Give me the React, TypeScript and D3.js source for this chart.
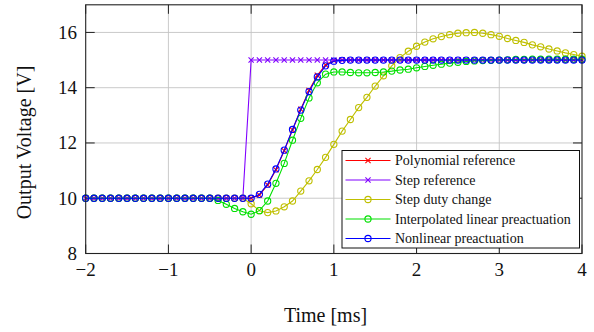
import { scaleLinear, line, range } from 'd3';

// sample times, 0.1 ms apart
const time = range(61).map((i) => Math.round((-2 + i * 0.1) * 10) / 10);

const polyRef = [
  10, 10, 10, 10, 10, 10, 10, 10, 10, 10, 10, 10, 10, 10, 10, 10, 10, 10, 10, 10,
  10, 10.12, 10.48, 11.03, 11.72, 12.47, 13.22, 13.9, 14.45, 14.82, 14.98, 15,
  15, 15, 15, 15, 15, 15, 15, 15, 15, 15, 15, 15, 15, 15, 15, 15, 15, 15, 15, 15, 15, 15, 15, 15, 15, 15, 15, 15, 15,
];

const stepRef = [
  10, 10, 10, 10, 10, 10, 10, 10, 10, 10, 10, 10, 10, 10, 10, 10, 10, 10, 10, 10,
  15, 15, 15, 15, 15, 15, 15, 15, 15, 15, 15, 15, 15, 15, 15, 15, 15, 15, 15, 15,
  15, 15, 15, 15, 15, 15, 15, 15, 15, 15, 15, 15, 15, 15, 15, 15, 15, 15, 15, 15, 15,
];

const stepDuty = [
  10, 10, 10, 10, 10, 10, 10, 10, 10, 10, 10, 10, 10, 10, 10, 10, 10, 10, 10, 10,
  9.8, 9.55, 9.48, 9.54, 9.69, 9.9, 10.26, 10.63, 11.04, 11.48,
  11.95, 12.43, 12.85, 13.28, 13.65, 14.06, 14.43, 14.79, 15.09, 15.32,
  15.5, 15.65, 15.77, 15.85, 15.92, 15.97, 15.99, 16.0, 15.97, 15.92,
  15.86, 15.78, 15.71, 15.64, 15.55, 15.48, 15.4, 15.33, 15.26, 15.2,
  15.14,
];

const interpLinear = [
  10, 10, 10, 10, 10, 10, 10, 10, 10, 10, 10, 10, 10, 10, 10, 10,
  9.92, 9.78, 9.63, 9.51,
  9.42, 9.55, 9.9, 10.54, 11.26, 12.1, 12.89, 13.63, 14.18, 14.49,
  14.57, 14.57, 14.55, 14.54, 14.54, 14.55, 14.57, 14.6, 14.64, 14.67,
  14.72, 14.77, 14.81, 14.85, 14.89, 14.92, 14.95, 14.97, 14.98, 14.99,
  15.0, 15.01, 15.02, 15.02, 15.03, 15.03, 15.03, 15.03, 15.03, 15.03,
  15.03,
];

const nonlinear = [
  10, 10, 10, 10, 10, 10, 10, 10, 10, 10, 10, 10, 10, 10, 10, 10, 10, 10, 10, 10,
  10, 10.14, 10.51, 11.06, 11.74, 12.49, 13.19, 13.86, 14.39, 14.79, 14.96, 14.99,
  15, 15, 15, 15, 15, 15, 15, 15, 15, 15, 15, 15, 15, 15, 15, 15, 15, 15, 15, 15, 15, 15, 15, 15, 15, 15, 15, 15, 15,
];

const xTicks = [-2, -1, 0, 1, 2, 3, 4];
const yTicks = [8, 10, 12, 14, 16];

const series = [
  { name: 'Polynomial reference', values: polyRef, color: '#ff0000', mark: 'x' },
  { name: 'Step reference', values: stepRef, color: '#8000ff', mark: 'x' },
  { name: 'Step duty change', values: stepDuty, color: '#bfbf00', mark: 'o' },
  { name: 'Interpolated linear preactuation', values: interpLinear, color: '#00e000', mark: 'o' },
  { name: 'Nonlinear preactuation', values: nonlinear, color: '#0000ff', mark: 'o' },
];

const W = 594;
const H = 332;
const left = 85.7;
const right = 582;
const top = 4.8;
const bottom = 253.5;
const tickLen = 9;
const font = '"Liberation Serif", "Times New Roman", serif';

function Marker({ kind, x, y, color }: { kind: string; x: number; y: number; color: string }) {
  if (kind === 'x') {
    const s = 2.6;
    return (
      <path
        d={`M${x - s},${y - s}L${x + s},${y + s}M${x - s},${y + s}L${x + s},${y - s}`}
        stroke={color}
        strokeWidth={1.1}
        fill="none"
      />
    );
  }
  return <circle cx={x} cy={y} r={3.1} stroke={color} strokeWidth={1.1} fill="none" />;
}

export default function App() {
  const x = scaleLinear().domain([-2, 4]).range([left, right]);
  const y = scaleLinear().domain([8, 17]).range([bottom, top]);
  const lineGen = line<number>()
    .x((_, i) => x(time[i]))
    .y((d) => y(d));

  const legX = 342;
  const legY = 150.5;
  const legW = 237.5;
  const legH = 97.5;
  const rowH = 19.5;

  return (
    <svg
      width={W}
      height={H}
      style={{ position: 'fixed', left: 0, top: 0, background: '#fff' }}
      fontFamily={font}
    >
      <defs>
        <clipPath id="plot-clip">
          <rect x={left - 4} y={top - 4} width={right - left + 8} height={bottom - top + 8} />
        </clipPath>
      </defs>

      {/* grid */}
      {xTicks.slice(1, -1).map((t) => (
        <line key={`gx${t}`} x1={x(t)} x2={x(t)} y1={top} y2={bottom} stroke="#c4c4c4" strokeWidth={0.9} />
      ))}
      {yTicks.slice(1).map((t) => (
        <line key={`gy${t}`} x1={left} x2={right} y1={y(t)} y2={y(t)} stroke="#c4c4c4" strokeWidth={0.9} />
      ))}

      {/* ticks, pointing inward on all four sides */}
      {xTicks.map((t) => (
        <g key={`tx${t}`} stroke="#222" strokeWidth={1}>
          <line x1={x(t)} x2={x(t)} y1={bottom} y2={bottom - tickLen} />
          <line x1={x(t)} x2={x(t)} y1={top} y2={top + tickLen} />
        </g>
      ))}
      {yTicks.map((t) => (
        <g key={`ty${t}`} stroke="#222" strokeWidth={1}>
          <line x1={left} x2={left + tickLen} y1={y(t)} y2={y(t)} />
          <line x1={right} x2={right - tickLen} y1={y(t)} y2={y(t)} />
        </g>
      ))}

      {/* series */}
      <g clipPath="url(#plot-clip)">
        {series.map((s) => (
          <g key={s.name}>
            <path d={lineGen(s.values) || ''} fill="none" stroke={s.color} strokeWidth={1.1} />
            {s.values.map((v, i) => (
              <Marker key={i} kind={s.mark} x={x(time[i])} y={y(v)} color={s.color} />
            ))}
          </g>
        ))}
      </g>

      {/* axis box */}
      <rect x={left} y={top} width={right - left} height={bottom - top} fill="none" stroke="#222" strokeWidth={1.1} />

      {/* tick labels */}
      {xTicks.map((t) => (
        <text key={`lx${t}`} x={x(t)} y={276} textAnchor="middle" fontSize={19} fill="#111">
          {t < 0 ? `\u2212${Math.abs(t)}` : t}
        </text>
      ))}
      {yTicks.map((t) => (
        <text key={`ly${t}`} x={77} y={y(t) + 6.5} textAnchor="end" fontSize={19} fill="#111">
          {t}
        </text>
      ))}

      {/* axis labels */}
      <text x={325.5} y={322} textAnchor="middle" fontSize={20} fill="#111">
        Time [ms]
      </text>
      <text
        transform={`translate(31,142.5) rotate(-90)`}
        textAnchor="middle"
        fontSize={20}
        fill="#111"
      >
        Output Voltage [V]
      </text>

      {/* legend */}
      <rect x={legX} y={legY} width={legW} height={legH} fill="#fff" stroke="#111" strokeWidth={1} />
      {series.map((s, i) => {
        const ry = legY + 10 + i * rowH;
        return (
          <g key={`leg${s.name}`}>
            <line x1={legX + 3.5} x2={legX + 48.5} y1={ry} y2={ry} stroke={s.color} strokeWidth={1.1} />
            <Marker kind={s.mark} x={legX + 26} y={ry} color={s.color} />
            <text x={legX + 53} y={ry + 4.8} fontSize={14} fill="#111">
              {s.name}
            </text>
          </g>
        );
      })}
    </svg>
  );
}
